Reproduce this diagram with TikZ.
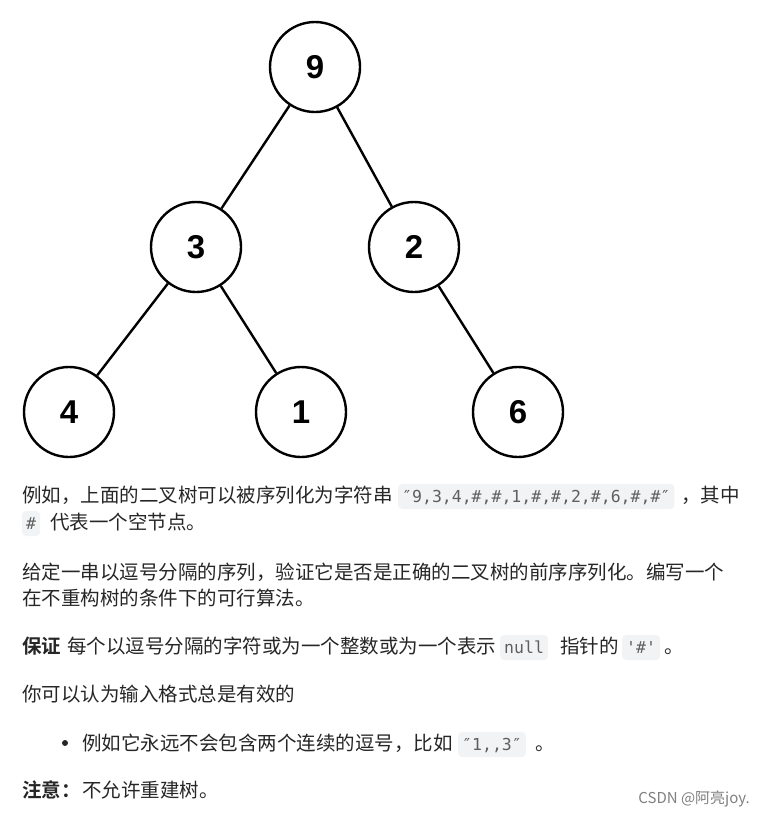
\documentclass[tikz,border=0pt]{standalone}
\usepackage{fontspec}
\setmainfont{Liberation Sans}
\newfontfamily\cjk{Noto Sans CJK SC}
\newfontfamily\cjkb{Noto Sans CJK SC Bold}
\newfontfamily\codefont{DejaVu Sans Mono}
\definecolor{txt}{HTML}{262626}
\definecolor{codebg}{HTML}{F2F3F5}
\definecolor{codetxt}{HTML}{5F5F5F}
\tikzset{
  treenode/.style={circle, draw=black, line width=2.4pt, minimum size=90pt, inner sep=0pt, font=\fontsize{33}{36}\selectfont\bfseries},
  edge/.style={line width=2.4pt},
  para/.style={anchor=base west, inner sep=0pt, text=txt, font=\fontsize{19.5}{22}\cjk},
  codebox/.style={anchor=base west, fill=codebg, rounded corners=4pt, text=codetxt, inner xsep=4pt, inner ysep=0pt, text height=18pt, text depth=7pt, font=\fontsize{16.5}{20}\codefont},
}
\begin{document}
\begin{tikzpicture}[x=1pt,y=-1pt]
\useasboundingbox (0,0) rectangle (765,814);
\fill[white] (0,0) rectangle (765,814);
% tree
\node[treenode] (n9) at (315,67) {9};
\node[treenode] (n3) at (196,247) {3};
\node[treenode] (n2) at (414,247) {2};
\node[treenode] (n4) at (69,412) {4};
\node[treenode] (n1) at (301,412) {1};
\node[treenode] (n6) at (518,412) {6};
\draw[edge] (n9) -- (n3);
\draw[edge] (n9) -- (n2);
\draw[edge] (n3) -- (n4);
\draw[edge] (n3) -- (n1);
\draw[edge] (n2) -- (n6);
% paragraph 1
\node[para] (p1a) at (22,502) {例如，上面的二叉树可以被序列化为字符串};
\node[codebox] (c1) at (398,502) {″9,3,4,\#,\#,1,\#,\#,2,\#,6,\#,\#″};
\node[para] (p1b) at (681,502) {，其中};
\node[codebox] (c2) at (22,529) {\#};
\node[para] (p1c) at (50,529) {代表一个空节点。};
% paragraph 2
\node[para] (p2a) at (22,579) {给定一串以逗号分隔的序列，验证它是否是正确的二叉树的前序序列化。编写一个};
\node[para] (p2b) at (22,605) {在不重构树的条件下的可行算法。};
% paragraph 3
\node[para, font=\fontsize{19.5}{22}\cjkb] (p3a) at (22,653) {保证};
\node[para] (p3b) at (67,653) {每个以逗号分隔的字符或为一个整数或为一个表示};
\node[codebox] (c3) at (500,653) {null};
\node[para] (p3c) at (560,653) {指针的};
\node[codebox] (c4) at (622,653) {'\#'};
\node[para] (p3d) at (664,653) {。};
% paragraph 4
\node[para] (p4) at (22,701) {你可以认为输入格式总是有效的};
% bullet
\fill[txt] (65,743) circle (3pt);
\node[para] (p5a) at (82,750) {例如它永远不会包含两个连续的逗号，比如};
\node[codebox] (c5) at (458,750) {″1,,3″};
\node[para] (p5b) at (535,750) {。};
% note
\node[para, font=\fontsize{19.5}{22}\cjkb] (p6a) at (22,797) {注意：};
\node[para] (p6b) at (82,797) {不允许重建树。};
% watermark
\node[anchor=base east, inner sep=0pt, text=black!50, font=\fontsize{15}{16}\cjk] (wm) at (750,803) {CSDN @阿亮joy.};
\end{tikzpicture}
\end{document}
